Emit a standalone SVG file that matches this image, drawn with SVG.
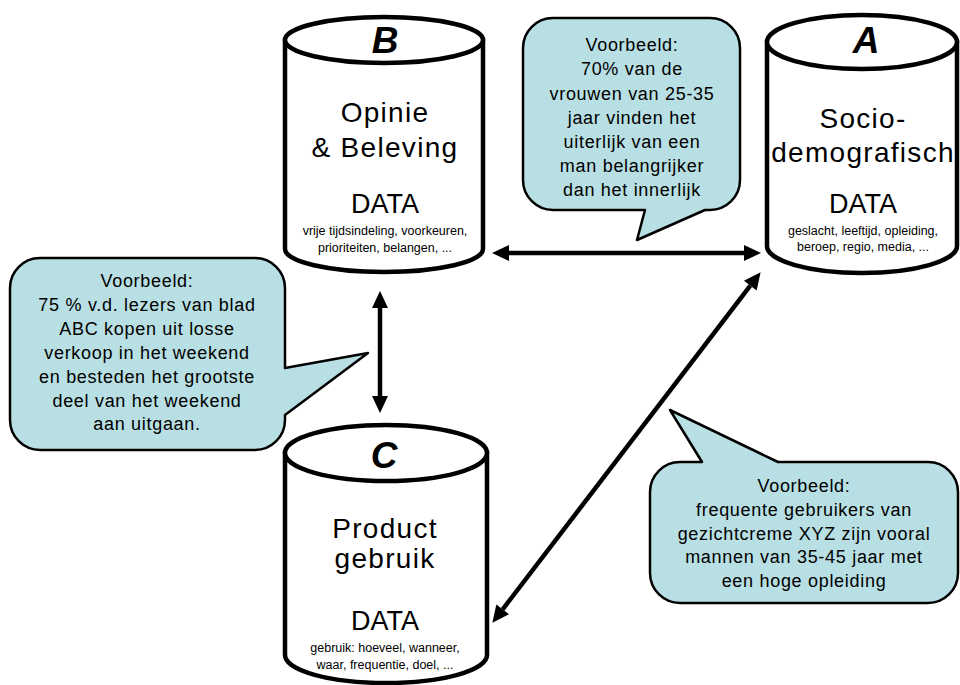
<svg xmlns="http://www.w3.org/2000/svg" width="960" height="685" viewBox="0 0 960 685">
  <style>
    .cyl { fill: #ffffff; stroke: #000000; stroke-width: 4.5; }
    .bubble { fill: #b8dfe3; stroke: #000000; stroke-width: 2.5; stroke-linejoin: round; }
    text { font-family: "Liberation Sans", Arial, sans-serif; fill: #000000; text-anchor: middle; }
    .letter { font-size: 37px; font-weight: bold; font-style: italic; }
    .title { font-size: 28px; letter-spacing: 1.3px; }
    .data { font-size: 27px; }
    .small { font-size: 12.5px; }
    .note { font-size: 18px; letter-spacing: 0.7px; }
    .link { stroke: #000000; stroke-width: 4.5; fill: none; marker-start: url(#head); marker-end: url(#head); }
  </style>
  <defs>
    <marker id="head" markerUnits="userSpaceOnUse" viewBox="0 -9 17 18" refX="0" refY="0" markerWidth="17" markerHeight="18" orient="auto-start-reverse" overflow="visible">
      <path d="M0,-8 L17,0 L0,8 Z" fill="#000000"/>
    </marker>
  </defs>

  <!-- connectors -->
  <g id="connectors">
    <line class="link" x1="509" y1="253" x2="744" y2="253"/>
    <line class="link" x1="380" y1="308" x2="380" y2="396"/>
    <line class="link" x1="750.3" y1="285.7" x2="502.7" y2="609.3"/>
  </g>

  <!-- B: Opinie & Beleving -->
  <g id="node-b">
    <path class="cyl" d="M285,40 V249 A99,23 0 0 0 483,249 V40 Z"/>
    <ellipse class="cyl" cx="384" cy="40" rx="99" ry="23"/>
    <text class="letter" x="385" y="53">B</text>
    <text class="title" x="385" y="122">Opinie</text>
    <text class="title" x="385" y="157">&amp; Beleving</text>
    <text class="data" x="385" y="213">DATA</text>
    <text class="small" x="385" y="235">vrije tijdsindeling, voorkeuren,</text>
    <text class="small" x="385" y="252">prioriteiten, belangen, ...</text>
  </g>

  <!-- A: Socio-demografisch -->
  <g id="node-a">
    <path class="cyl" d="M767,42 V246 A95,27 0 0 0 957,246 V42 Z"/>
    <ellipse class="cyl" cx="862" cy="42" rx="95" ry="27"/>
    <text class="letter" x="866" y="53">A</text>
    <text class="title" x="863" y="128">Socio-</text>
    <text class="title" x="863" y="162">demografisch</text>
    <text class="data" x="863" y="213">DATA</text>
    <text class="small" x="863" y="235">geslacht, leeftijd, opleiding,</text>
    <text class="small" x="863" y="251">beroep, regio, media, ...</text>
  </g>

  <!-- C: Productgebruik -->
  <g id="node-c">
    <path class="cyl" d="M285,453 V655 A101,28 0 0 0 487,655 V453 Z"/>
    <ellipse class="cyl" cx="386" cy="453" rx="101" ry="28"/>
    <text class="letter" x="384" y="468">C</text>
    <text class="title" x="385" y="538">Product</text>
    <text class="title" x="385" y="568">gebruik</text>
    <text class="data" x="385" y="630">DATA</text>
    <text class="small" x="385" y="652">gebruik: hoeveel, wanneer,</text>
    <text class="small" x="385" y="669">waar, frequentie, doel, ...</text>
  </g>

  <!-- example callout near B and A -->
  <g id="note-ba">
    <path class="bubble" d="M553,18 H710 A30,30 0 0 1 740,48 V180 A30,30 0 0 1 710,210 H705 L637,240 L645,210 H553 A30,30 0 0 1 523,180 V48 A30,30 0 0 1 553,18 Z"/>
    <text class="note" x="632" y="51">Voorbeeld:</text>
    <text class="note" x="632" y="75">70% van de</text>
    <text class="note" x="632" y="99.5">vrouwen van 25-35</text>
    <text class="note" x="632" y="124">jaar vinden het</text>
    <text class="note" x="632" y="148">uiterlijk van een</text>
    <text class="note" x="632" y="172">man belangrijker</text>
    <text class="note" x="632" y="196">dan het innerlijk</text>
  </g>

  <!-- example callout near B and C -->
  <g id="note-bc">
    <path class="bubble" d="M40,258 H255 A30,30 0 0 1 285,288 V368 L368,353 L285,415 V420 A30,30 0 0 1 255,450 H40 A30,30 0 0 1 10,420 V288 A30,30 0 0 1 40,258 Z"/>
    <text class="note" x="147" y="287">Voorbeeld:</text>
    <text class="note" x="147" y="311">75 % v.d. lezers van blad</text>
    <text class="note" x="147" y="335">ABC kopen uit losse</text>
    <text class="note" x="147" y="359">verkoop in het weekend</text>
    <text class="note" x="147" y="383">en besteden het grootste</text>
    <text class="note" x="147" y="407">deel van het weekend</text>
    <text class="note" x="147" y="430">aan uitgaan.</text>
  </g>

  <!-- example callout near A and C -->
  <g id="note-ac">
    <path class="bubble" d="M680,462 H702 L670,410 L778,462 H928 A30,30 0 0 1 958,492 V573 A30,30 0 0 1 928,603 H680 A30,30 0 0 1 650,573 V492 A30,30 0 0 1 680,462 Z"/>
    <text class="note" x="804" y="492">Voorbeeld:</text>
    <text class="note" x="804" y="516">frequente gebruikers van</text>
    <text class="note" x="804" y="540">gezichtcreme XYZ zijn vooral</text>
    <text class="note" x="804" y="563">mannen van 35-45 jaar met</text>
    <text class="note" x="804" y="587">een hoge opleiding</text>
  </g>
</svg>
